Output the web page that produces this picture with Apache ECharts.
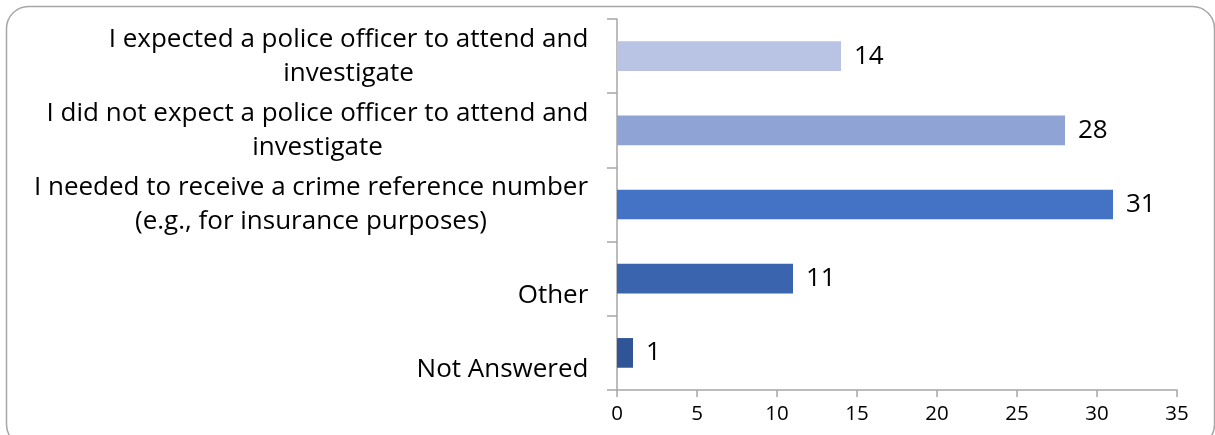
<!DOCTYPE html>
<html><head><meta charset="utf-8">
<script src="https://cdn.jsdelivr.net/npm/echarts/dist/echarts.min.js"></script>
<style>html,body{margin:0;padding:0;background:#fff}#c{width:1215px;height:435px}</style>
</head><body><div id="c"></div>
<script>
const categories = [
  'I expected a police officer to attend and\ninvestigate',
  'I did not expect a police officer to attend and\ninvestigate',
  'I needed to receive a crime reference number\n(e.g., for insurance purposes)',
  'Other',
  'Not Answered'
];
const values = [14, 28, 31, 11, 1];
const barColors = ['#B9C3E3', '#8FA3D4', '#4472C4', '#3A64AD', '#2F5597'];
const xTicks = { min: 0, max: 35, interval: 5 };

const FONT = '"Open Sans"';
const CAT_SIZE = 26;
const ctx = document.createElement('canvas').getContext('2d');
ctx.font = CAT_SIZE + 'px ' + FONT;
const rich = {};
categories.forEach((c, i) => {
  const w = Math.max(...c.split('\n').map(l => ctx.measureText(l).width));
  rich['r' + i] = { width: Math.ceil(w) + 1, align: 'center', fontSize: CAT_SIZE, fontFamily: FONT, color: '#000', lineHeight: 34 };
});

const chart = echarts.init(document.getElementById('c'), null, { renderer: 'canvas' });
chart.setOption({
  animation: false,
  graphic: [{
    type: 'rect', left: 4, top: 4, silent: true,
    shape: { width: 1208, height: 440, r: 22 },
    style: { fill: 'none', stroke: '#a6a6a6', lineWidth: 1.5 }
  }],
  grid: { left: 617, right: 38, top: 19, bottom: 45, containLabel: false },
  xAxis: {
    type: 'value', min: xTicks.min, max: xTicks.max, interval: xTicks.interval,
    splitLine: { show: false },
    axisLine: { show: true, lineStyle: { color: '#a6a6a6', width: 1.5 } },
    axisTick: { show: true, length: 7, lineStyle: { color: '#a6a6a6', width: 1.5 } },
    axisLabel: { color: '#000', fontFamily: FONT, fontSize: 20.5, margin: 14 }
  },
  yAxis: {
    type: 'category', inverse: true, data: categories,
    axisLine: { show: true, lineStyle: { color: '#a6a6a6', width: 1.5 } },
    axisTick: { show: true, length: 10, lineStyle: { color: '#a6a6a6', width: 1.5 } },
    axisLabel: {
      margin: 28, align: 'right',
      formatter: (v, i) => {
        const lines = v.split('\n');
        if (lines.length === 1) lines.unshift(' ');
        return lines.map(l => '{r' + i + '|' + l + '}').join('\n');
      },
      rich: rich
    }
  },
  series: [{
    type: 'bar', barWidth: '40%',
    data: values.map((v, i) => ({ value: v, itemStyle: { color: barColors[i] } })),
    label: { show: true, position: 'right', distance: 13, color: '#000', fontFamily: FONT, fontSize: 26 }
  }]
});
</script>
</body></html>
